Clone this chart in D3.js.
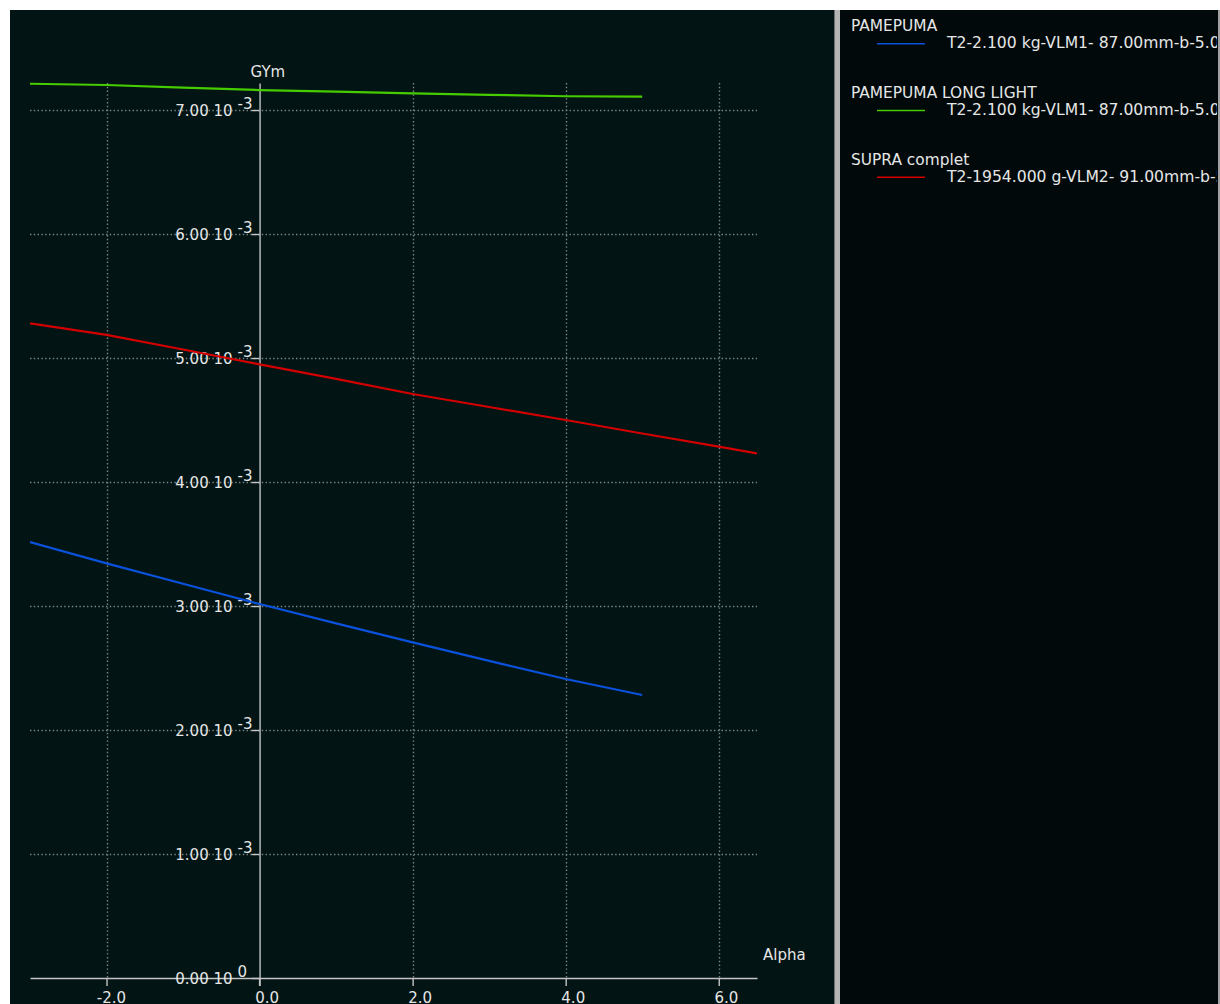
<!DOCTYPE html>
<html>
<head>
<meta charset="utf-8">
<script src="https://cdn.jsdelivr.net/npm/d3@7"></script>
<style>
  html, body { margin: 0; padding: 0; background: #ffffff; }
  svg { display: block; }
  text { font-family: "DejaVu Sans", Verdana, sans-serif; }
</style>
</head>
<body>
<svg id="chart" width="1220" height="1004"></svg>
<script>
// ---------- data ----------
const xTickValues = [-2, 0, 2, 4, 6];
const yTickValues = [0, 1e-3, 2e-3, 3e-3, 4e-3, 5e-3, 6e-3, 7e-3];
const yTickMantissa = ["0.00", "1.00", "2.00", "3.00", "4.00", "5.00", "6.00", "7.00"];
const yTickExponent = ["0", "-3", "-3", "-3", "-3", "-3", "-3", "-3"];

const seriesNames = ["PAMEPUMA", "PAMEPUMA LONG LIGHT", "SUPRA complet"];
const seriesDescriptions = [
  "T2-2.100 kg-VLM1- 87.00mm-b-5.0%",
  "T2-2.100 kg-VLM1- 87.00mm-b-5.0%",
  "T2-1954.000 g-VLM2- 91.00mm-b-5.0%"
];
const seriesColors = ["#0a52dc", "#46cc00", "#d40000"];

const alphaPamepuma = [-3, -2, -1, 0, 1, 2, 3, 4, 5];
const gymPamepuma = [3.516e-3, 3.344e-3, 3.180e-3, 3.016e-3, 2.860e-3, 2.707e-3, 2.558e-3, 2.411e-3, 2.282e-3];

const alphaLongLight = [-3, -2, -1, 0, 1, 2, 3, 4, 5];
const gymLongLight = [7.212e-3, 7.202e-3, 7.180e-3, 7.161e-3, 7.148e-3, 7.135e-3, 7.123e-3, 7.111e-3, 7.108e-3];

const alphaSupra = [-3, -2, -1, 0, 1, 2, 3, 4, 5, 6, 6.5];
const gymSupra = [5.280e-3, 5.186e-3, 5.069e-3, 4.949e-3, 4.832e-3, 4.710e-3, 4.605e-3, 4.500e-3, 4.391e-3, 4.285e-3, 4.231e-3];

const xDomain = [-3, 6.5];
const yDomain = [0, 7.218e-3];
const xTitle = "Alpha";
const yTitle = "GYm";

// ---------- layout ----------
const svg = d3.select("#chart");
const plotLeft = 30, plotRight = 757, plotTop = 83, plotBottom = 978;

// panels
svg.append("rect").attr("x", 10).attr("y", 10).attr("width", 825).attr("height", 994).attr("fill", "#021414");
svg.append("rect").attr("x", 835).attr("y", 10).attr("width", 5).attr("height", 994).attr("fill", "#b4b4b4");
svg.append("rect").attr("x", 834).attr("y", 10).attr("width", 1).attr("height", 994).attr("fill", "#6e6e6e");
svg.append("rect").attr("x", 840).attr("y", 10).attr("width", 378).attr("height", 994).attr("fill", "#01090b");
svg.append("rect").attr("x", 1218).attr("y", 10).attr("width", 2).attr("height", 994).attr("fill", "#a0a0a0");

const x = d3.scaleLinear().domain(xDomain).range([plotLeft, plotRight]);
const y = d3.scaleLinear().domain(yDomain).range([plotBottom, plotTop]);

const gridColor = "#7d8585";
const axisColor = "#c4c4c4";
const textColor = "#e6e6e6";

// grid lines
svg.append("g").selectAll("line").data(yTickValues.filter(v => v !== 0)).join("line")
  .attr("x1", plotLeft).attr("x2", plotRight)
  .attr("y1", d => Math.round(y(d)) + 0.5).attr("y2", d => Math.round(y(d)) + 0.5)
  .attr("stroke", gridColor).attr("stroke-width", 1.4).attr("stroke-dasharray", "1.4,2.4");
svg.append("g").selectAll("line").data(xTickValues.filter(v => v !== 0)).join("line")
  .attr("x1", d => Math.round(x(d)) + 0.5).attr("x2", d => Math.round(x(d)) + 0.5)
  .attr("y1", plotTop).attr("y2", plotBottom)
  .attr("stroke", gridColor).attr("stroke-width", 1.4).attr("stroke-dasharray", "1.4,2.4");

// x axis
const xAxis = d3.axisBottom(x).tickValues(xTickValues).tickSize(8).tickSizeOuter(0)
  .tickFormat(d => d.toFixed(1));
const gx = svg.append("g").attr("transform", `translate(0,${plotBottom})`).call(xAxis);
gx.select(".domain").attr("stroke", axisColor).attr("stroke-width", 1.4);
gx.selectAll(".tick line").attr("stroke", axisColor).attr("stroke-width", 1.4);
gx.selectAll(".tick text")
  .attr("fill", textColor).attr("font-size", 15).attr("text-anchor", "end")
  .attr("x", 19).attr("y", 25).attr("dy", null)
  .style("font-family", "DejaVu Sans, sans-serif");

// y axis
const yAxis = d3.axisLeft(y).tickValues(yTickValues).tickSize(8).tickSizeOuter(0)
  .tickFormat((d, i) => yTickMantissa[i] + " 10");
const gy = svg.append("g").attr("transform", `translate(${x(0)},0)`).call(yAxis);
gy.select(".domain").attr("stroke", axisColor).attr("stroke-width", 1.4);
gy.selectAll(".tick line").attr("stroke", axisColor).attr("stroke-width", 1.4);
gy.selectAll(".tick text")
  .attr("fill", textColor).attr("font-size", 15).attr("text-anchor", "end")
  .attr("x", -27).attr("y", 5).attr("dy", null)
  .style("font-family", "DejaVu Sans, sans-serif");
gy.selectAll(".tick").append("text")
  .attr("fill", textColor).attr("font-size", 15).attr("text-anchor", "start")
  .attr("x", -22).attr("y", -2)
  .style("font-family", "DejaVu Sans, sans-serif")
  .text((d, i) => yTickExponent[i]);
svg.append("line").attr("x1", x(0)).attr("x2", x(0)).attr("y1", plotBottom).attr("y2", plotBottom + 8)
  .attr("stroke", axisColor).attr("stroke-width", 1.4);

// axis titles
svg.append("text").attr("x", x(0) - 9).attr("y", 77).attr("fill", textColor).attr("font-size", 15).text(yTitle);
svg.append("text").attr("x", 763).attr("y", 960).attr("fill", textColor).attr("font-size", 15).text(xTitle);

// series lines
const seriesData = [
  alphaPamepuma.map((a, i) => [a, gymPamepuma[i]]),
  alphaLongLight.map((a, i) => [a, gymLongLight[i]]),
  alphaSupra.map((a, i) => [a, gymSupra[i]])
];
svg.append("clipPath").attr("id", "plotClip").append("rect")
  .attr("x", plotLeft).attr("y", 10).attr("width", plotRight - plotLeft).attr("height", plotBottom - 10);
const line = d3.line().x(d => x(d[0])).y(d => y(d[1]));
svg.append("g").attr("clip-path", "url(#plotClip)").selectAll("path").data(seriesData).join("path")
  .attr("d", line).attr("fill", "none")
  .attr("stroke", (d, i) => seriesColors[i]).attr("stroke-width", 2.2);

// legend
svg.append("clipPath").attr("id", "legendClip").append("rect")
  .attr("x", 840).attr("y", 10).attr("width", 377).attr("height", 994);
const legend = svg.append("g").attr("clip-path", "url(#legendClip)");
const entry = legend.selectAll("g").data(seriesNames).join("g")
  .attr("transform", (d, i) => `translate(0,${31 + i * 66.8})`);
entry.append("text").attr("x", 851).attr("y", 0).attr("fill", textColor).attr("font-size", 15.4).text(d => d);
entry.append("line").attr("x1", 877).attr("x2", 925).attr("y1", 12.7).attr("y2", 12.7)
  .attr("stroke", (d, i) => seriesColors[i]).attr("stroke-width", 1.6);
entry.append("text").attr("x", 947).attr("y", 17).attr("fill", textColor).attr("font-size", 15.6)
  .text((d, i) => seriesDescriptions[i]);
</script>
</body>
</html>
